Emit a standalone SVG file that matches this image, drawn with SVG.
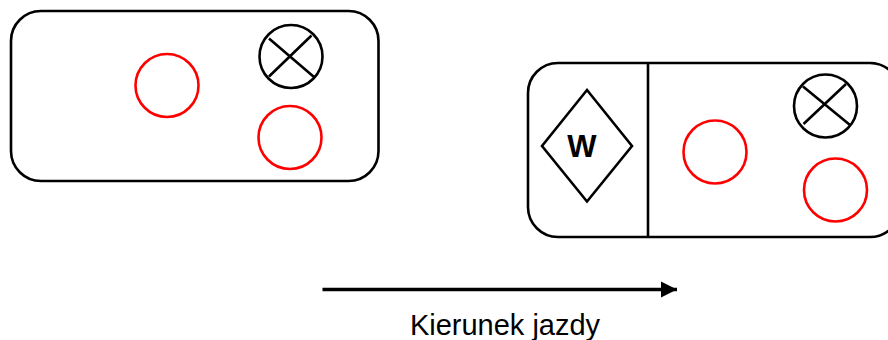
<svg xmlns="http://www.w3.org/2000/svg" width="888" height="340" viewBox="0 0 888 340">
<style>
.k{fill:none;stroke:#000;stroke-width:2.600}
.r{fill:none;stroke:#f00;stroke-width:2.600}
.t{font-family:"Liberation Sans",Arial,sans-serif;fill:#000}
</style>
<defs><marker id="a" markerUnits="userSpaceOnUse" markerWidth="18" markerHeight="18" refX="16" refY="9" orient="auto"><path d="M0 1L16 9L0 17Z" fill="#000"/></marker></defs>
<rect width="888" height="340" fill="#fff"/>
<g id="wagon-left">
<rect class="k" x="11" y="11" width="367.500" height="170" rx="30" ry="30"/>
<circle class="r" cx="167" cy="85.500" r="31.500"/>
<circle class="k" cx="291" cy="56.500" r="31.500"/>
<path class="k" d="M269 38.500L314 77M311.500 35.500L269 76.500"/>
<circle class="r" cx="290" cy="137.500" r="31.500"/>
</g>
<g id="wagon-right">
<rect class="k" x="528" y="63" width="372" height="174" rx="30" ry="30"/>
<path class="k" d="M648 63V237"/>
<path class="k" d="M587 90L632 146L587 201.500L542 146Z"/>
<text class="t" x="582" y="157" font-size="31" font-weight="700" text-anchor="middle">W</text>
<circle class="r" cx="715" cy="152" r="31.500"/>
<circle class="k" cx="825.500" cy="106" r="31.500"/>
<path class="k" d="M803 86.500L850 125M846 84L803.500 124"/>
<circle class="r" cx="835.500" cy="190" r="31.500"/>
</g>
<g id="connectors">
<path d="M322.500 289.500H677" stroke="#000" stroke-width="3.500" fill="none" marker-end="url(#a)"/>
</g>
<text id="label" class="t" x="505" y="335" font-size="29" text-anchor="middle">Kierunek jazdy</text>
</svg>
